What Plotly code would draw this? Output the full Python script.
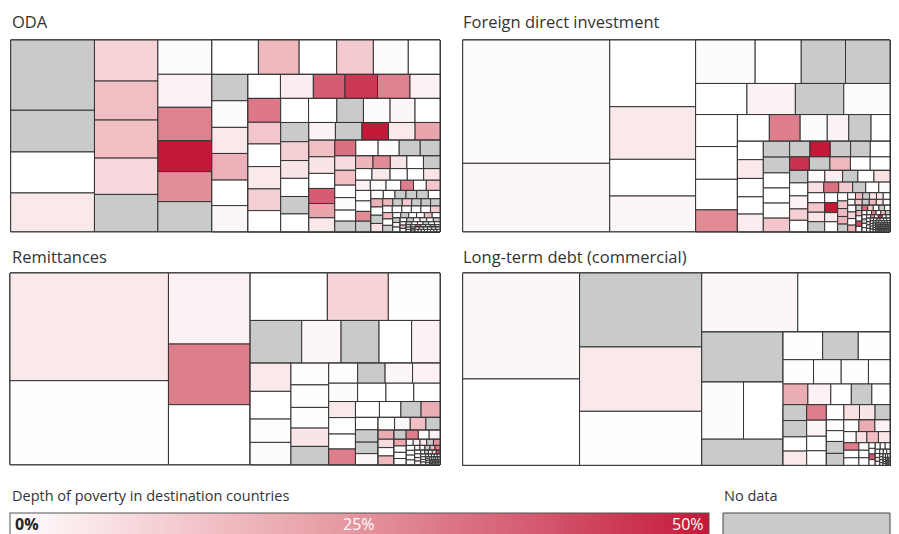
import plotly.graph_objects as go

# Each treemap is read as a run of strips: "c" = column on the left, "r" = row on top.
# Values are approximate cell sizes, depth = depth of poverty (%), None = no data.
oda_dirs = "cccrcrcrcrcrcrrrcrcrrcrcrcrcrcrr"
oda_values = [
    [588, 349, 343, 324],
    [260, 247, 241, 230, 236],
    [185, 178, 180, 167, 162, 162],
    [160, 140, 129, 126, 120, 109],
    [95, 96, 94, 96, 92, 94],
    [78, 79, 76, 78, 78, 72],
    [78, 71, 74, 73, 71, 69],
    [67, 68, 64, 64, 60, 60],
    [54, 53, 50, 51, 49, 50],
    [47, 47, 47, 47, 44],
    [43, 43, 39, 39, 37, 36],
    [33, 35, 33, 33, 31],
    [30, 31, 26, 26, 23, 22],
    [22, 22, 21, 21, 21],
    [19, 21, 20, 19, 19],
    [15, 16, 15, 13, 13, 14],
    [16, 16, 15, 16],
    [10.3, 9.7, 9.2, 8.9, 9.7, 9.7],
    [9.7, 9.7, 9.7, 9.7],
    [7.3, 6.8, 6.8, 6.8, 6.8, 6.8],
    [6.3, 6.3, 6.3, 6.3, 6.3, 6.3],
    [6.4, 6.4, 6.4],
    [4.2, 4.2, 4.1, 4.1, 4.1, 4.1],
    [3.4, 3.4, 3.4],
    [2.6, 2.6, 2.6, 2.6, 2.6, 2.6],
    [2, 2, 2],
    [1.7, 1.7, 1.7, 1.7, 1.7, 1.7],
    [1.1, 1.1, 1.1],
    [1.1, 1.1, 1.1, 1.1, 1.1, 1.1],
    [0.63, 0.63, 0.63],
    [0.96, 0.96, 0.96, 0.96, 0.96, 0.96],
    [0.72, 0.72, 0.72, 0.72, 0.72, 0.72, 0.72, 0.72],
]
oda_depth = [
    [None, None, 0, 5],
    [10, 15, 15, 9, None],
    [1, 3, 29, 50, 26, None],
    [0, 16, 0, 12, 1, 0],
    [None, 1, 5, 18, 0, 2],
    [0, 4, 37, 44, 29, 3],
    [31, 13, 0, 5, 11, 0],
    [0, 0, None, 1, 2, 0],
    [None, 11, 6, 0, None, 0],
    [3, None, 50, 5, 21],
    [15, 6, 0, 37, 21, 5],
    [33, 0, 1, None, None],
    [8, 15, 0, 1, 0, None],
    [17, 27, 6, 0, None],
    [0, 5, 0, 0, 6],
    [3, 1, 0, 30, 0, 13],
    [0, 0, 27, None],
    [0, 0, None, None, None, 0],
    [18, 0, None, 7],
    [16, None, 12, None, None, None],
    [0, 0, 0, 0, 0, 12],
    [16, 0, None],
    [0, None, 0, 0, 16, 0],
    [None, 3, 0],
    [0, None, 0, 5, 0, None],
    [0, 18, 0],
    [None, 0, 0, None, 0, 0],
    [0, 0, 0],
    [0, 30, 0, 0, None, 0],
    [0, 0, 0],
    [0, 0, 0, 0, 0, 0],
    [0, 0, 0, 0, 0, 0, 0, 0],
]

fdi_dirs = "ccrrcrccrrcrrcccrrcrcrcrcrcrcrcrcrrr"
fdi_values = [
    [1829, 1014],
    [578, 456, 318, 309],
    [261, 202, 194, 195],
    [161, 152, 152, 145],
    [135, 138, 129, 92],
    [86, 83, 73, 58, 60, 51],
    [48, 49, 48, 45, 46],
    [42, 42, 40, 40, 40, 36],
    [32, 32, 32, 31, 31],
    [27, 28, 28, 27, 27],
    [23, 24, 24, 21, 21],
    [20, 21, 18, 19, 19],
    [17, 16, 15, 14, 14, 12],
    [17, 16, 16, 17],
    [13, 13, 12, 13],
    [8.3, 7.7, 8, 7.7, 7.7],
    [5.2, 4.8, 4.6, 4.6, 4.5, 4.5],
    [4.4, 4.3, 4.2, 4.2, 4.1, 4.1],
    [5.6, 5.6, 5.5, 5.5],
    [3.2, 3.0, 3.0, 3.0, 3.0, 2.9],
    [3.2, 3.2, 3.2, 3.2],
    [2.1, 2, 2, 2, 2, 2],
    [2, 2, 2, 1.9],
    [1.3, 1.3, 1.3, 1.3, 1.3, 1.3],
    [1.25, 1.25, 1.25, 1.25],
    [0.87, 0.87, 0.87, 0.87, 0.87, 0.87],
    [0.82, 0.82, 0.82, 0.82],
    [0.65, 0.65, 0.65, 0.65, 0.65, 0.65],
    [0.58, 0.58, 0.58, 0.58],
    [0.47, 0.47, 0.47, 0.47, 0.47, 0.47],
    [0.39, 0.39, 0.39, 0.39],
    [0.32, 0.32, 0.32, 0.32, 0.32, 0.32],
    [0.25, 0.25, 0.25, 0.25],
    [0.27, 0.27, 0.27, 0.27, 0.27, 0.27],
    [0.27, 0.27, 0.27, 0.27, 0.27, 0.27],
    [0.27, 0.27, 0.27, 0.27, 0.27, 0.27],
]
fdi_depth = [
    [1, 2],
    [0, 5, 0, 2],
    [1, 0, None, None],
    [0, 3, None, 1],
    [0, 0, 0, 27],
    [0, 30, 1, 3, None, 0],
    [0, 5, 0, 0, 4],
    [None, None, 0, 0, 1, 13],
    [None, 50, None, None, 0],
    [45, None, 16, 0, 0],
    [None, 0, 3, 11, 0],
    [1, 4, None, 0, 7],
    [7, 33, 12, None, 0, 1],
    [0, 13, 6, None],
    [0, 50, 5, 0],
    [0, 13, 16, 18, None],
    [0, 16, None, 6, 5, 0],
    [0, 12, None, 16, 7, 0],
    [0, 10, 0, 18],
    [None, 35, 12, 0, None, 0],
    [16, 0, 40, 0],
    [0, 3, 30, 0, 16, None],
    [0, None, 0, 5],
    [0, 25, 0, 45, 0, 0],
    [0, 8, 0, 0],
    [0, 0, 20, 0, 0, 0],
    [0, 0, 0, 0],
    [0, 0, 0, 0, 0, 0],
    [0, 0, 0, 0],
    [0, 0, 0, 0, 0, 0],
    [0, 0, 0, 0],
    [0, 0, 0, 0, 0, 0],
    [0, 0, 0, 0],
    [0, 0, 0, 0, 0, 0],
    [0, 0, 0, 0, 0, 0],
    [0, 0, 0, 0, 0, 0],
]

rem_dirs = "ccrrccrrcrcrcrcrcrcrcrcrcrr"
rem_values = [
    [1705, 1330],
    [580, 495, 490],
    [366, 289, 245],
    [220, 168, 162, 139, 121],
    [115, 113, 95, 91],
    [82, 85, 78, 69, 69],
    [58, 55, 55, 55],
    [53, 52, 51, 48],
    [43, 44, 40, 42],
    [38, 34, 32, 30],
    [28, 28, 26, 25],
    [21, 20, 20, 18],
    [14.4, 13.3, 13.3, 13.9],
    [11.1, 11.1, 9.9, 9.9],
    [8.2, 7.8, 7.6, 7.6],
    [4.2, 4.2, 4.1, 4.1, 4],
    [4.1, 4, 4, 4],
    [2.5, 2.4, 2.4, 2.4, 2.4],
    [2.2, 2.2, 2.2, 2.2],
    [1.5, 1.5, 1.5, 1.5, 1.5],
    [1.3, 1.3, 1.3, 1.3],
    [0.82, 0.82, 0.82, 0.82, 0.82],
    [0.77, 0.77, 0.77, 0.77],
    [0.54, 0.54, 0.54, 0.54, 0.54],
    [0.4, 0.4, 0.4, 0.4],
    [0.36, 0.36, 0.36, 0.36, 0.36],
    [0.36, 0.36, 0.36, 0.36, 0.36],
]
rem_depth = [
    [5, 0.5],
    [3, 30, 0],
    [0, 10, 0.5],
    [None, 2, None, 0, 3],
    [5, 0, 0.5, 1],
    [0.5, 0.5, 0.5, 6, None],
    [0.5, None, 2, 3],
    [1, 0, 0, 0],
    [5, 0, 0, 30],
    [0, 0, None, 19],
    [0, None, None, 2],
    [1, 2, 15, None],
    [19, 8, 0, 16],
    [None, 30, 0, 3],
    [20, 0, 0, 0],
    [0, 3, 5, None, 25],
    [0, 0, 0, 1],
    [3, 0, None, 16, 30],
    [0, 0, 7, 0],
    [0, None, 0, 5, 40],
    [0, 0, 0, 0],
    [0, 0, 0, 0, 0],
    [0, 0, 0, 0],
    [0, 0, 0, 0, 0],
    [0, 0, 0, 0],
    [0, 0, 0, 0, 0],
    [0, 0, 0, 0, 0],
]

debt_dirs = "ccrcrrrccrcrrcccrcrcrcrr"
debt_values = [
    [1254, 1022],
    [915, 796, 668],
    [574, 551],
    [412, [241, 228], 217],
    [111, 100, 89],
    [75, 68, 67, 53],
    [52, 48, 43, 43, 38],
    [38, 39, 34, 34],
    [31, 32, 29, 29],
    [27, 24, 24, 23],
    [19, 19, 21, 21],
    [18, 19, 18],
    [14, 12, 13, 13],
    [11.5, 11.5, 11.5],
    [7.7, 7.7, 7.7],
    [3.6, 3.6, 3.6, 3.6],
    [3.3, 3.3, 3.2],
    [1.9, 1.8, 1.8, 1.8],
    [1.6, 1.6, 1.5],
    [1, 1, 1, 0.9],
    [0.83, 0.83, 0.83],
    [0.58, 0.58, 0.58, 0.58],
    [0.44, 0.44, 0.44],
    [0.45, 0.45, 0.45, 0.45],
]
debt_depth = [
    [2, 0],
    [None, 5, 0.5],
    [2, 0],
    [None, [1, 0], None],
    [0.5, None, 0.5],
    [0.5, 0.5, 0.5, 0],
    [19, 3, 0, None, 0],
    [None, None, 0, 5],
    [30, 2, 0, 0.5],
    [0.5, 7, 6, None],
    [0.5, 0.5, None, None],
    [0, 19, 3],
    [1, 7, 15, 6],
    [30, 0, 0],
    [1, 0, 0],
    [0, 0, 38, 0],
    [0, 0, 0],
    [0, 0, 7, 0],
    [0, 0, 0],
    [0, 0, 0, 0],
    [0, 0, 0],
    [0, 0, 0, 0],
    [0, 0, 0],
    [0, 0, 0, 0],
]

panel_titles = ["ODA", "Foreign direct investment", "Remittances", "Long-term debt (commercial)"]

RED_SCALE = [[0.0, "#ffffff"], [0.25, "#f3c8cd"], [0.5, "#e4949d"], [0.75, "#d45a70"], [1.0, "#c41838"]]
NO_DATA = "#c9caca"
LINE = "#333333"
FONT = "Open Sans"

# the page body has an 8px margin, so the figure is drawn 8px in from the corner
OFF = 8
W, H = 899 - OFF, 534 - OFF


def px(x):
    return (x - OFF) / W


def py(y):
    return 1 - (y - OFF) / H


def hex_rgb(h):
    h = h.lstrip("#")
    return [int(h[i:i + 2], 16) for i in (0, 2, 4)]


def cell_color(d):
    if d is None:
        return NO_DATA
    t = min(max(d / 50.0, 0), 1)
    for (p0, c0), (p1, c1) in zip(RED_SCALE[:-1], RED_SCALE[1:]):
        if t <= p1:
            f = (t - p0) / (p1 - p0)
            a, b = hex_rgb(c0), hex_rgb(c1)
            return "rgb({},{},{})".format(*[round(a[i] + (b[i] - a[i]) * f) for i in range(3)])
    return RED_SCALE[-1][1]


def build(name, dirs, values, depths):
    ids, parents, vals, colors = [], [], [], []
    count = [0]

    def node(parent, v, c):
        count[0] += 1
        nid = f"{name}-{count[0]}"
        ids.append(nid)
        parents.append(parent)
        vals.append(v)
        colors.append(c)
        return nid

    def leaves(parent, vs, ds):
        for v, d in zip(vs, ds):
            if isinstance(v, list):
                leaves(node(parent, 0, "white"), v, d)
            else:
                node(parent, v, cell_color(d))

    # slice-dice: even depth lays children side by side, odd depth stacks them
    def place(parent, depth, k):
        if k >= len(dirs):
            return
        if (depth % 2 == 0) != (dirs[k] == "c"):
            place(node(parent, 0, "white"), depth + 1, k)
            return
        j = k
        while j < len(dirs) and dirs[j] == dirs[k]:
            leaves(node(parent, 0, "white"), values[j], depths[j])
            j += 1
        if j < len(dirs):
            place(node(parent, 0, "white"), depth + 1, j)

    root = node("", 0, "white")
    place(root, 0, 0)
    return ids, parents, vals, colors


# right-hand panels stop at 890 so their right border stays inside the visible page
panels = [
    (oda_dirs, oda_values, oda_depth, (10.7, 440.0, 40.0, 231.7)),
    (fdi_dirs, fdi_values, fdi_depth, (462.7, 890.0, 40.0, 231.7)),
    (rem_dirs, rem_values, rem_depth, (10.0, 440.0, 273.0, 464.7)),
    (debt_dirs, debt_values, debt_depth, (462.7, 890.0, 273.0, 465.3)),
]

fig = go.Figure()

for n, (dirs, values, depths, box) in enumerate(panels):
    ids, parents, vals, colors = build(f"p{n}", dirs, values, depths)
    x0, x1, y0, y1 = box
    fig.add_trace(go.Treemap(
        ids=ids,
        labels=ids,
        parents=parents,
        values=vals,
        branchvalues="remainder",
        sort=False,
        tiling=dict(packing="slice-dice", pad=0),
        marker=dict(colors=colors, line=dict(color=LINE, width=1),
                    pad=dict(t=0, l=0, r=0, b=0)),
        textinfo="none",
        hoverinfo="skip",
        pathbar=dict(visible=False),
        domain=dict(x=[px(x0), px(x1)], y=[py(y1), py(y0)]),
    ))

# dummy trace that only carries the colour bar
fig.add_trace(go.Scatter(
    x=[None], y=[None], mode="markers", showlegend=False, hoverinfo="skip",
    marker=dict(color=[0], cmin=0, cmax=50, colorscale=RED_SCALE, showscale=True,
                colorbar=dict(orientation="h", x=px(10), xanchor="left", y=py(513), yanchor="top",
                              len=699, lenmode="pixels", thickness=24, thicknessmode="pixels",
                              xpad=0, ypad=0, outlinewidth=1, outlinecolor="#555555",
                              showticklabels=False, ticks="")),
))

annotations = []
title_pos = [(10, 21), (461, 21), (10, 256), (461, 256)]
for t, (x, y) in zip(panel_titles, title_pos):
    annotations.append(dict(text=t, x=px(x), y=py(y), xanchor="left",
                            font=dict(family=FONT, size=16.5, color="#333333")))

annotations += [
    dict(text="Depth of poverty in destination countries", x=px(10), y=py(495), xanchor="left",
         font=dict(family=FONT, size=14.5, color="#333333")),
    dict(text="No data", x=px(722), y=py(495), xanchor="left",
         font=dict(family=FONT, size=14.5, color="#333333")),
    dict(text="<b>0%</b>", x=px(13), y=py(524), xanchor="left",
         font=dict(family=FONT, size=16, color="#222222")),
    dict(text="25%", x=px(359), y=py(524), xanchor="center",
         font=dict(family=FONT, size=16, color="#ffffff")),
    dict(text="50%", x=px(706), y=py(524), xanchor="right",
         font=dict(family=FONT, size=16, color="#ffffff")),
]
for a in annotations:
    a.update(xref="paper", yref="paper", yanchor="middle", showarrow=False)

fig.update_layout(
    width=W, height=H,
    margin=dict(l=0, r=0, t=0, b=0, autoexpand=False),
    paper_bgcolor="white", plot_bgcolor="white",
    xaxis=dict(visible=False), yaxis=dict(visible=False),
    annotations=annotations,
    shapes=[dict(type="rect", xref="paper", yref="paper", x0=px(723), x1=px(890),
                 y0=py(545), y1=py(513), fillcolor=NO_DATA,
                 line=dict(color="#444444", width=1))],
)

fig.write_html("out.html")
